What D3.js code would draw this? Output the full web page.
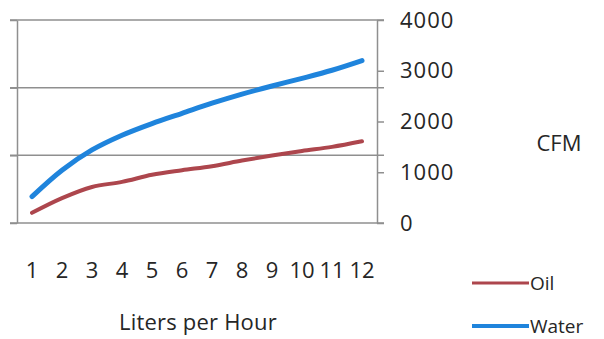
<!DOCTYPE html>
<html>
<head>
<meta charset="utf-8">
<script src="https://cdn.jsdelivr.net/npm/d3@7"></script>
<style>
  html, body { margin: 0; padding: 0; background: #fff; }
  svg { display: block; }
  text { font-family: "Open Sans", "Noto Sans", sans-serif; fill: #262626; }
</style>
</head>
<body>
<svg id="chart" width="604" height="339"></svg>
<script>
// Flow rate categories (liters per hour)
const categories = [1, 2, 3, 4, 5, 6, 7, 8, 9, 10, 11, 12];
// CFM readings per category
const oilValues   = [200, 490, 710, 810, 950, 1040, 1120, 1230, 1330, 1420, 1500, 1610];
const waterValues = [520, 1040, 1440, 1730, 1960, 2160, 2360, 2540, 2700, 2850, 3010, 3200];
const rightTicks = [0, 1000, 2000, 3000, 4000];
const leftTicks = [0, 1, 2, 3];

const seriesList = [
  { name: "Oil", values: oilValues, color: "#ad464d", width: 4, legendWidth: 3 },
  { name: "Water", values: waterValues, color: "#1f84dc", width: 5, legendWidth: 4 }
];

const svg = d3.select("#chart");
const plot = { left: 17, right: 377, top: 20, bottom: 223 };
const gridColor = "#8f8f8f";

const x = d3.scaleBand().domain(categories).range([plot.left, plot.right]);
const yRight = d3.scaleLinear().domain([0, 4000]).range([plot.bottom, plot.top]);
const yLeft = d3.scaleLinear().domain([0, 3]).range([plot.bottom, plot.top]);

// Horizontal gridlines from the (unlabelled) left axis
svg.append("g")
  .selectAll("line")
  .data(leftTicks)
  .join("line")
  .attr("x1", plot.left - 7)
  .attr("x2", plot.right + 7)
  .attr("y1", d => yLeft(d))
  .attr("y2", d => yLeft(d))
  .attr("stroke", gridColor)
  .attr("stroke-width", 1.5);

// Left axis line
const leftAxis = svg.append("g")
  .attr("transform", `translate(${plot.left},0)`)
  .call(d3.axisLeft(yLeft).tickValues(leftTicks).tickFormat("").tickSize(7).tickSizeOuter(0));
leftAxis.select(".domain").attr("stroke", gridColor).attr("stroke-width", 1.5);
leftAxis.selectAll(".tick line").attr("stroke", gridColor).attr("stroke-width", 1.5);

// Right value axis (CFM)
const rightAxis = svg.append("g")
  .attr("transform", `translate(${plot.right},0)`)
  .call(d3.axisRight(yRight).tickValues(rightTicks).tickFormat(d3.format("d"))
    .tickSize(7).tickSizeOuter(0).tickPadding(16));
rightAxis.select(".domain").attr("stroke", gridColor).attr("stroke-width", 1.5);
rightAxis.selectAll(".tick line").attr("stroke", gridColor).attr("stroke-width", 1.5);
rightAxis.selectAll(".tick text")
  .attr("font-size", 22)
  .attr("letter-spacing", 1)
  .attr("font-family", "'Open Sans', sans-serif")
  .attr("fill", "#262626");

// Category labels
svg.append("g")
  .selectAll("text")
  .data(categories)
  .join("text")
  .attr("x", d => x(d) + x.bandwidth() / 2)
  .attr("y", 270)
  .attr("dy", "0.35em")
  .attr("text-anchor", "middle")
  .attr("font-size", 22)
  .text(d => d);

// Axis titles
svg.append("text")
  .attr("x", 559).attr("y", 143).attr("dy", "0.35em")
  .attr("text-anchor", "middle").attr("font-size", 22)
  .text("CFM");
svg.append("text")
  .attr("x", 198).attr("y", 322).attr("dy", "0.35em")
  .attr("text-anchor", "middle").attr("font-size", 22)
  .attr("letter-spacing", 0.2)
  .text("Liters per Hour");

// Smoothed series lines
const line = d3.line()
  .x((d, i) => x(categories[i]) + x.bandwidth() / 2)
  .y(d => yRight(d))
  .curve(d3.curveCatmullRom.alpha(0.5));

svg.append("g")
  .selectAll("path")
  .data(seriesList)
  .join("path")
  .attr("d", s => line(s.values))
  .attr("fill", "none")
  .attr("stroke", s => s.color)
  .attr("stroke-width", s => s.width)
  .attr("stroke-linecap", "round")
  .attr("stroke-linejoin", "round");

// Legend
const legend = svg.append("g")
  .selectAll("g")
  .data(seriesList)
  .join("g")
  .attr("transform", (d, i) => `translate(472,${283 + i * 43})`);
legend.append("line")
  .attr("x1", 0).attr("x2", 57)
  .attr("stroke", d => d.color)
  .attr("stroke-width", d => d.legendWidth);
legend.append("text")
  .attr("x", 58).attr("dy", "0.35em")
  .attr("font-size", 19)
  .text(d => d.name);
</script>
</body>
</html>
